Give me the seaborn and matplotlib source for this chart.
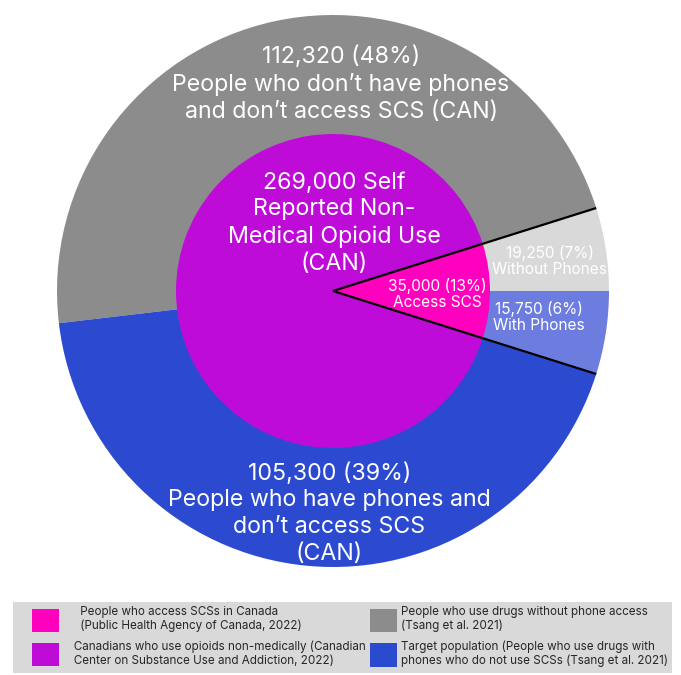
import numpy as np
import seaborn as sns
import matplotlib.pyplot as plt
from matplotlib.patches import Patch, Rectangle

sns.set_style('white')
plt.rcParams['font.family'] = ['Inter', 'DejaVu Sans']

# outer ring: without phones, no phones & no SCS, phones & no SCS, with phones
outer_counts = [19250, 112320, 105300, 15750]
outer_pcts = [7, 48, 39, 6]
outer_angles = [17.5, 169.2, 155.8, 17.5]   # degrees as drawn in the picture
outer_colors = ['#d9d9d9', '#8c8c8c', '#2c4acf', '#6c7ddf']
outer_text = ['Without Phones',
              "People who don\u2019t have phones\nand don\u2019t access SCS (CAN)",
              "People who have phones and\ndon\u2019t access SCS\n(CAN)",
              'With Phones']

# inner pie: access SCS, self reported opioid use
inner_counts = [35000, 269000]
inner_pcts = [13, None]
inner_angles = [35.0, 325.0]
inner_colors = ['#ff00bf', '#bf0bd8']

# leading spaces push the first column's text away from its swatch
legend_labels = [
    '     People who access SCSs in Canada\n     (Public Health Agency of Canada, 2022)',
    '   Canadians who use opioids non-medically (Canadian\n   Center on Substance Use and Addiction, 2022)',
    'People who use drugs without phone access\n(Tsang et al. 2021)',
    'Target population (People who use drugs with\nphones who do not use SCSs (Tsang et al. 2021)',
]
legend_colors = ['#ff00bf', '#bf0bd8', '#8c8c8c', '#2c4acf']

R_IN = 157 / 276

fig = plt.figure(figsize=(6.81, 6.75), dpi=100)
ax = fig.add_axes([0, 0, 1, 1])

ax.pie(outer_angles, colors=outer_colors, radius=1, startangle=0,
       counterclock=True, wedgeprops=dict(linewidth=0))
ax.pie(inner_angles, colors=inner_colors, radius=R_IN,
       startangle=-inner_angles[0] / 2, counterclock=True,
       wedgeprops=dict(linewidth=0))

# black edges of the SCS wedge
half = np.deg2rad(inner_angles[0] / 2)
for a in [half, -half]:
    ax.plot([0, np.cos(a)], [0, np.sin(a)], color='black', lw=1.6,
            solid_capstyle='butt')

big = 16.7
small = 11.1
ax.text(0.029, 0.75, f'{outer_counts[1]:,} ({outer_pcts[1]}%)\n' + outer_text[1],
        ha='center', va='center', color='white', fontsize=big, linespacing=1.28)
ax.text(-0.014, -0.806, f'{outer_counts[2]:,} ({outer_pcts[2]}%)\n' + outer_text[2],
        ha='center', va='center', color='white', fontsize=big, linespacing=1.28)
ax.text(0.004, 0.246, f'{inner_counts[1]:,} Self\nReported Non-\nMedical Opioid Use\n(CAN)',
        ha='center', va='center', color='white', fontsize=big, linespacing=1.28)
ax.text(0.377, -0.011, f'{inner_counts[0]:,} ({inner_pcts[0]}%)\nAccess SCS',
        ha='center', va='center', color='white', fontsize=small, linespacing=1.15)
ax.text(0.786, 0.109, f'{outer_counts[0]:,} ({outer_pcts[0]}%)\n' + outer_text[0],
        ha='center', va='center', color='white', fontsize=small, linespacing=1.15)
ax.text(0.746, -0.094, f'{outer_counts[3]:,} ({outer_pcts[3]}%)\n' + outer_text[3],
        ha='center', va='center', color='white', fontsize=small, linespacing=1.15)

ax.set_xlim(-333 / 276, 348 / 276)
ax.set_ylim(-384 / 276, 291 / 276)
ax.set_aspect('equal')
ax.axis('off')

# legend background box
fig.patches.append(Rectangle((13 / 681, 2 / 675), 659 / 681, 71 / 675,
                             transform=fig.transFigure, facecolor='#d9d9d9',
                             edgecolor='none', zorder=0))

handles = [Patch(facecolor=c, edgecolor='none') for c in legend_colors]
fig.legend(handles, legend_labels, ncol=2, loc='upper left',
           bbox_to_anchor=(32 / 681, 1 - 606 / 675),
           borderaxespad=0, borderpad=0, fontsize=8.4, frameon=False,
           handlelength=2.3, handleheight=2.7, handletextpad=0.4,
           labelspacing=0.7, columnspacing=0.4)

fig.savefig('out.png', dpi=100)
